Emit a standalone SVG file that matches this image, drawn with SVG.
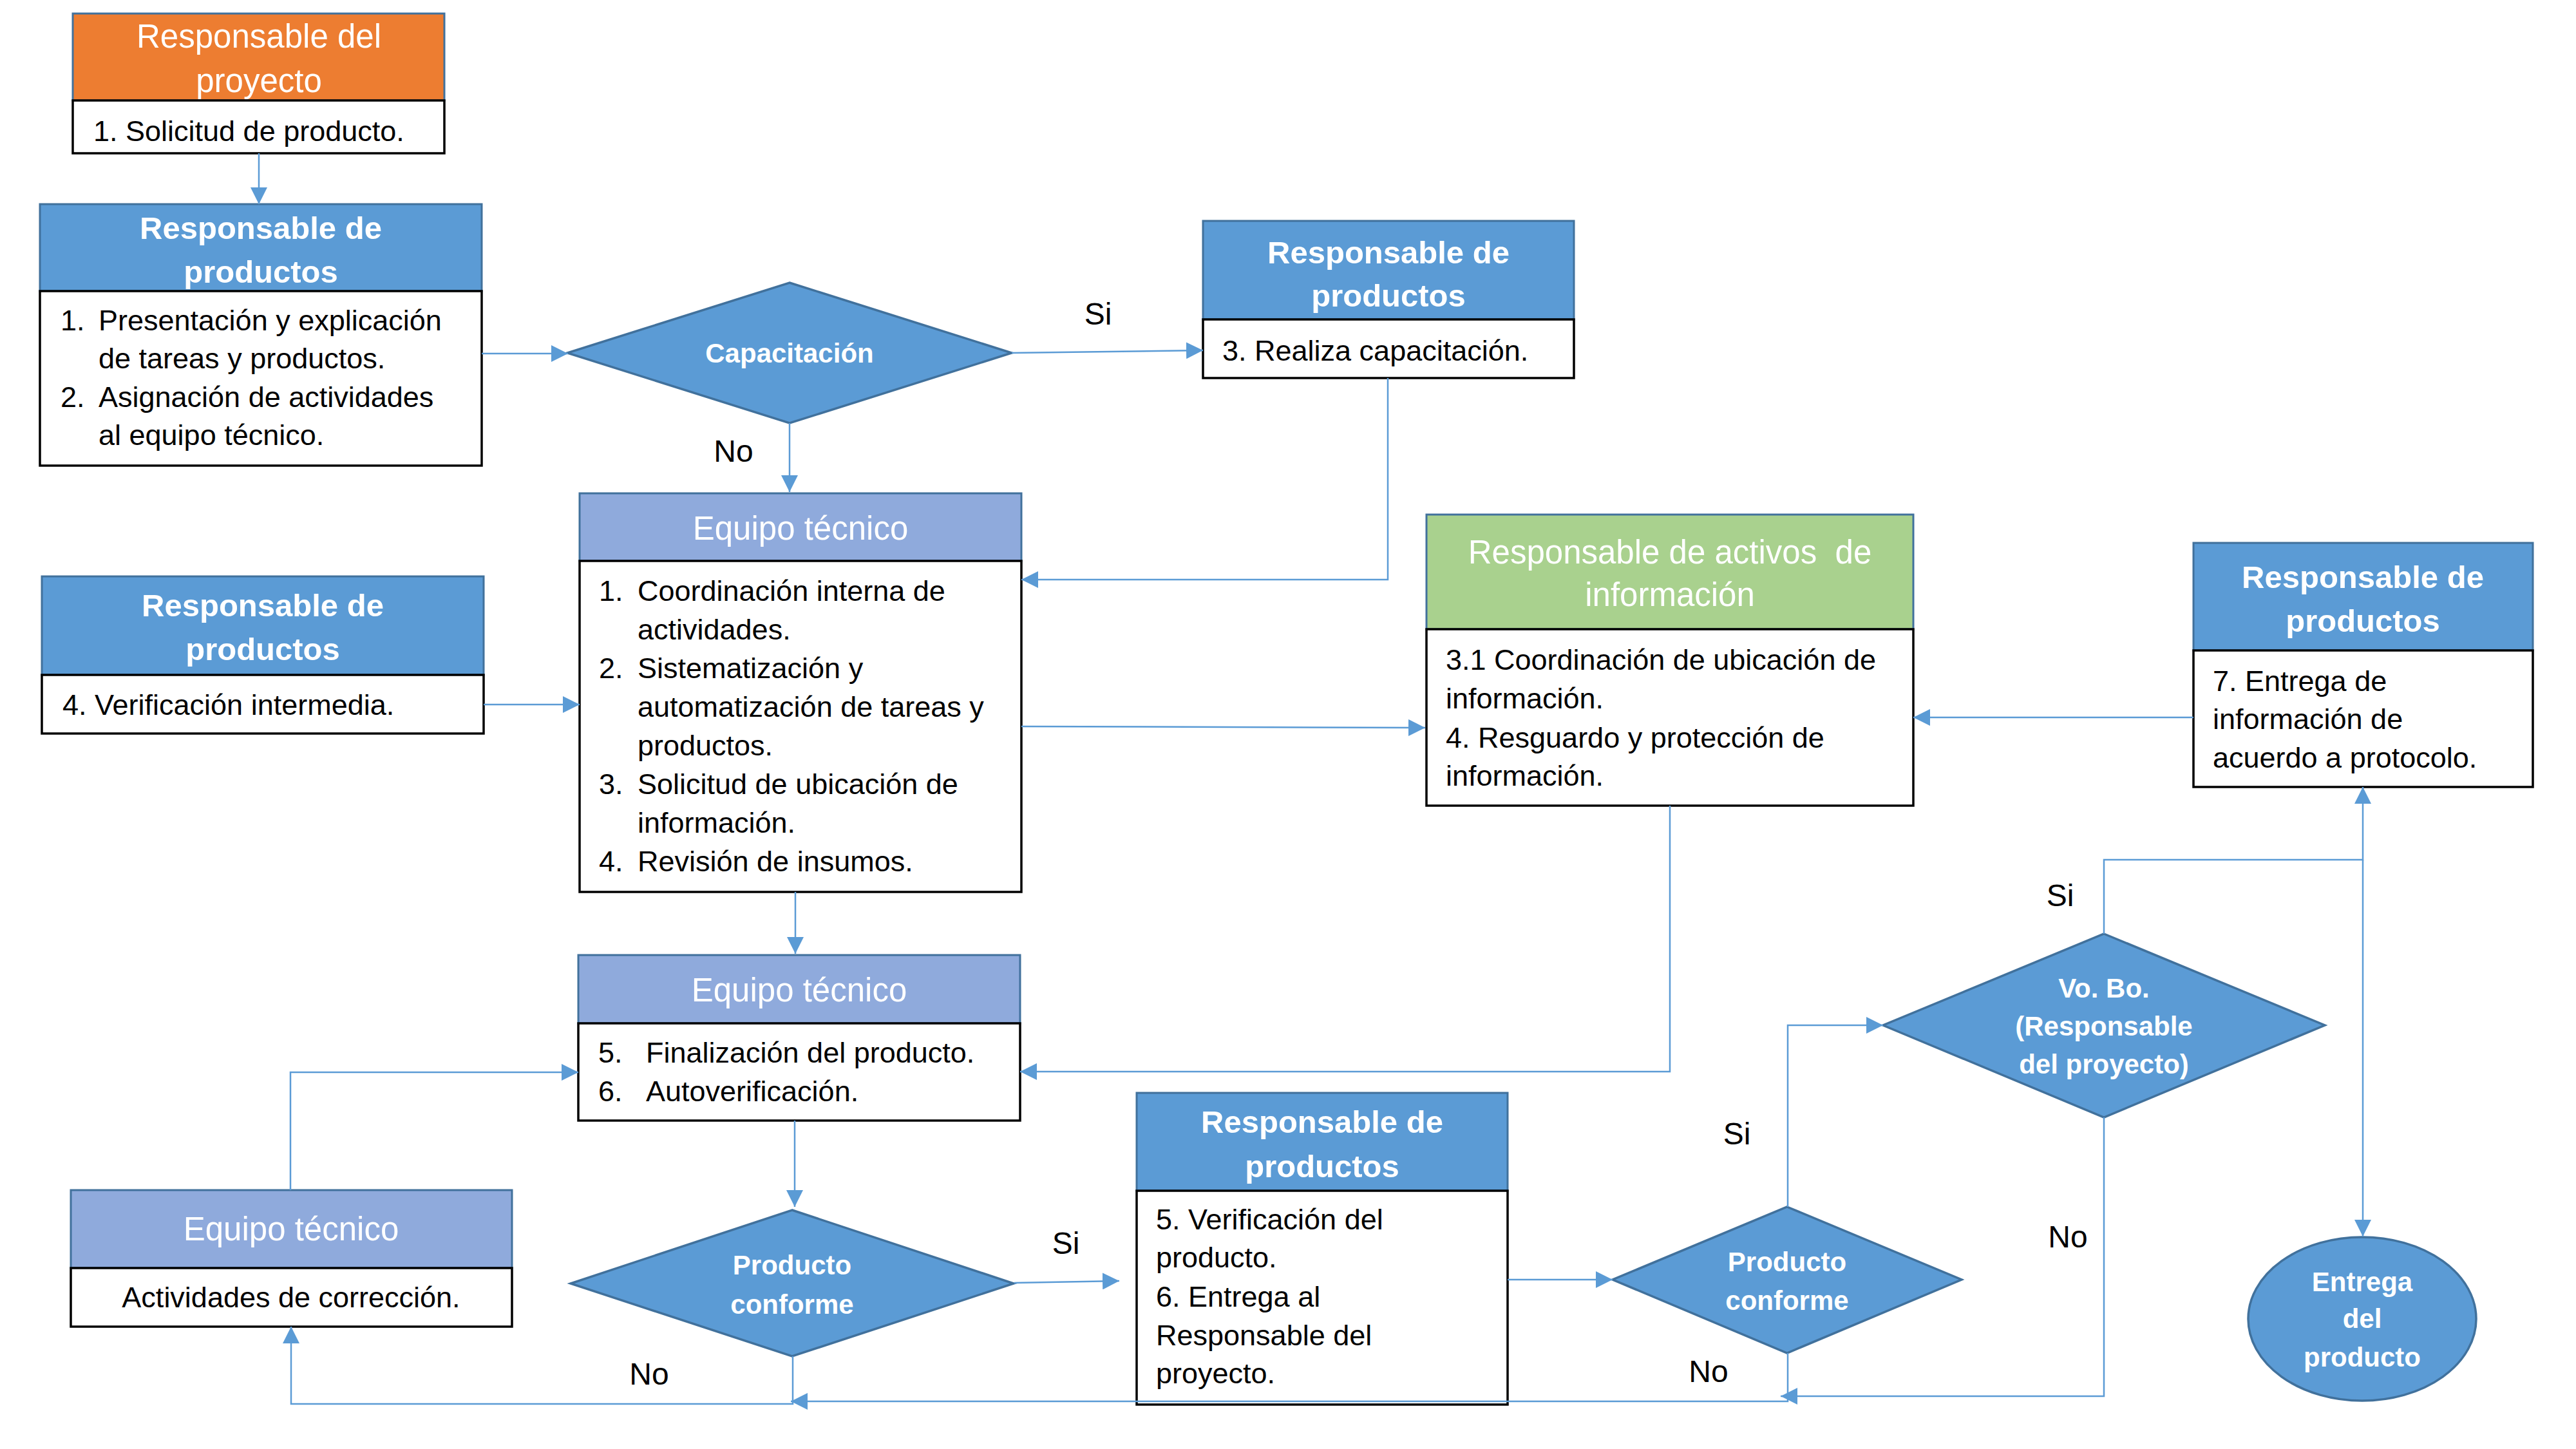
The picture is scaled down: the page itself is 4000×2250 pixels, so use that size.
<svg xmlns="http://www.w3.org/2000/svg" width="4000" height="2250" viewBox="0 0 4000 2250">
<style>
text{font-family:"Liberation Sans",Arial,sans-serif}
.hb{fill:#5B9BD5;stroke:#41719C;stroke-width:3}
.he{fill:#8FAADC;stroke:#41719C;stroke-width:3}
.hg{fill:#A9D18E;stroke:#41719C;stroke-width:3}
.ho{fill:#ED7D31;stroke:#41719C;stroke-width:3}
.bd{fill:#FFFFFF;stroke:#000000;stroke-width:3.5}
.dm{fill:#5B9BD5;stroke:#41719C;stroke-width:3.5}
.th{fill:#FFFFFF;font-size:49px;font-weight:bold;text-anchor:middle}
.tr{fill:#FFFFFF;font-size:51px;text-anchor:middle}
.td{fill:#FFFFFF;font-size:42px;font-weight:bold;text-anchor:middle}
.tb{fill:#000000;font-size:45px}
.lb{fill:#000000;font-size:48px;text-anchor:middle}
.cn{fill:none;stroke:#5B9BD5;stroke-width:2.5}
</style>
<defs>
<marker id="ah" markerUnits="userSpaceOnUse" markerWidth="26" markerHeight="26" viewBox="0 0 24 24" refX="24" refY="12" orient="auto">
<path d="M0,0 L24,12 L0,24 Z" fill="#5B9BD5"/>
</marker>
</defs>

<g id="n1">
<rect class="ho" x="113" y="21" width="577" height="135"/>
<rect class="bd" x="113" y="156" width="577" height="82"/>
<text class="tr" x="402" y="74">Responsable del</text>
<text class="tr" x="402" y="143">proyecto</text>
<text class="tb" x="145" y="219">1. Solicitud de producto.</text>
</g>

<g id="n2">
<rect class="hb" x="62" y="317" width="686" height="135"/>
<rect class="bd" x="62" y="452" width="686" height="271"/>
<text class="th" x="405" y="371">Responsable de</text>
<text class="th" x="405" y="439">productos</text>
<text class="tb" x="94" y="513">1.</text><text class="tb" x="153" y="513">Presentación y explicación</text>
<text class="tb" x="153" y="572">de tareas y productos.</text>
<text class="tb" x="94" y="632">2.</text><text class="tb" x="153" y="632">Asignación de actividades</text>
<text class="tb" x="153" y="691">al equipo técnico.</text>
</g>

<g id="d_capacitacion">
<polygon class="dm" points="1226,439 1571,548 1226,657 881,548"/>
<text class="td" x="1226" y="563">Capacitación</text>
</g>

<g id="n3">
<rect class="hb" x="1868" y="343" width="576" height="153"/>
<rect class="bd" x="1868" y="496" width="576" height="91"/>
<text class="th" x="2156" y="409">Responsable de</text>
<text class="th" x="2156" y="476">productos</text>
<text class="tb" x="1898" y="560">3. Realiza capacitación.</text>
</g>

<g id="n4">
<rect class="he" x="900" y="766" width="686" height="105"/>
<rect class="bd" x="900" y="871" width="686" height="514"/>
<text class="tr" x="1243" y="838">Equipo técnico</text>
<text class="tb" x="930" y="933">1.</text><text class="tb" x="990" y="933">Coordinación interna de</text>
<text class="tb" x="990" y="993">actividades.</text>
<text class="tb" x="930" y="1053">2.</text><text class="tb" x="990" y="1053">Sistematización y</text>
<text class="tb" x="990" y="1113">automatización de tareas y</text>
<text class="tb" x="990" y="1173">productos.</text>
<text class="tb" x="930" y="1233">3.</text><text class="tb" x="990" y="1233">Solicitud de ubicación de</text>
<text class="tb" x="990" y="1293">información.</text>
<text class="tb" x="930" y="1353">4.</text><text class="tb" x="990" y="1353">Revisión de insumos.</text>
</g>

<g id="n5">
<rect class="hb" x="65" y="895" width="686" height="153"/>
<rect class="bd" x="65" y="1048" width="686" height="91"/>
<text class="th" x="408" y="957">Responsable de</text>
<text class="th" x="408" y="1025">productos</text>
<text class="tb" x="97" y="1110">4. Verificación intermedia.</text>
</g>

<g id="n6">
<rect class="hg" x="2215" y="799" width="756" height="178"/>
<rect class="bd" x="2215" y="977" width="756" height="274"/>
<text class="tr" x="2593" y="875" xml:space="preserve">Responsable de activos  de</text>
<text class="tr" x="2593" y="941">información</text>
<text class="tb" x="2245" y="1040">3.1 Coordinación de ubicación de</text>
<text class="tb" x="2245" y="1100">información.</text>
<text class="tb" x="2245" y="1161">4. Resguardo y protección de</text>
<text class="tb" x="2245" y="1220">información.</text>
</g>

<g id="n7">
<rect class="hb" x="3406" y="843" width="527" height="167"/>
<rect class="bd" x="3406" y="1010" width="527" height="212"/>
<text class="th" x="3669" y="913">Responsable de</text>
<text class="th" x="3669" y="981">productos</text>
<text class="tb" x="3436" y="1073">7. Entrega de</text>
<text class="tb" x="3436" y="1132">información de</text>
<text class="tb" x="3436" y="1192">acuerdo a protocolo.</text>
</g>

<g id="n8">
<rect class="he" x="898" y="1483" width="686" height="106"/>
<rect class="bd" x="898" y="1589" width="686" height="151"/>
<text class="tr" x="1241" y="1555">Equipo técnico</text>
<text class="tb" x="929" y="1650">5.</text><text class="tb" x="1003" y="1650">Finalización del producto.</text>
<text class="tb" x="929" y="1710">6.</text><text class="tb" x="1003" y="1710">Autoverificación.</text>
</g>

<g id="n10">
<rect class="he" x="110" y="1848" width="685" height="121"/>
<rect class="bd" x="110" y="1969" width="685" height="91"/>
<text class="tr" x="452" y="1926">Equipo técnico</text>
<text class="tb" x="452" y="2030" text-anchor="middle">Actividades de corrección.</text>
</g>

<g id="d_conforme1">
<polygon class="dm" points="1230,1879 1574,1993 1230,2106 886,1993"/>
<text class="td" x="1230" y="1979">Producto</text>
<text class="td" x="1230" y="2040">conforme</text>
</g>

<g id="n9">
<rect class="hb" x="1765" y="1697" width="576" height="152"/>
<rect class="bd" x="1765" y="1849" width="576" height="332"/>
<text class="th" x="2053" y="1759">Responsable de</text>
<text class="th" x="2053" y="1828">productos</text>
<text class="tb" x="1795" y="1909">5. Verificación del</text>
<text class="tb" x="1795" y="1968">producto.</text>
<text class="tb" x="1795" y="2029">6. Entrega al</text>
<text class="tb" x="1795" y="2089">Responsable del</text>
<text class="tb" x="1795" y="2148">proyecto.</text>
</g>

<g id="d_conforme2">
<polygon class="dm" points="2775,1874 3046,1987 2775,2101 2504,1987"/>
<text class="td" x="2775" y="1974">Producto</text>
<text class="td" x="2775" y="2034">conforme</text>
</g>

<g id="d_vobo">
<polygon class="dm" points="3267,1450 3610,1592 3267,1735 2924,1592"/>
<text class="td" x="3267" y="1549">Vo. Bo.</text>
<text class="td" x="3267" y="1608">(Responsable</text>
<text class="td" x="3267" y="1667">del proyecto)</text>
</g>

<g id="entrega">
<ellipse class="dm" cx="3668" cy="2048" rx="177" ry="127"/>
<text class="td" x="3668" y="2005">Entrega</text>
<text class="td" x="3668" y="2062">del</text>
<text class="td" x="3668" y="2122">producto</text>
</g>

<g id="connectors">
<path class="cn" d="M402,238 V317" marker-end="url(#ah)"/>
<path class="cn" d="M748,549 H882" marker-end="url(#ah)"/>
<path class="cn" d="M1571,548 L1868,544" marker-end="url(#ah)"/>
<path class="cn" d="M1226,657 V764" marker-end="url(#ah)"/>
<path class="cn" d="M2155,587 V900 H1586" marker-end="url(#ah)"/>
<path class="cn" d="M751,1094 H900" marker-end="url(#ah)"/>
<path class="cn" d="M1586,1128 L2213,1130" marker-end="url(#ah)"/>
<path class="cn" d="M1235,1385 V1481" marker-end="url(#ah)"/>
<path class="cn" d="M2593,1251 V1664 H1584" marker-end="url(#ah)"/>
<path class="cn" d="M3406,1114 H2971" marker-end="url(#ah)"/>
<path class="cn" d="M1234,1740 V1874" marker-end="url(#ah)"/>
<path class="cn" d="M451,1848 V1665 H898" marker-end="url(#ah)"/>
<path class="cn" d="M1231,2106 V2180 H452 V2060" marker-end="url(#ah)"/>
<path class="cn" d="M1575,1992 L1738,1989" marker-end="url(#ah)"/>
<path class="cn" d="M2341,1987 H2504" marker-end="url(#ah)"/>
<path class="cn" d="M2776,1874 V1592 H2924" marker-end="url(#ah)"/>
<path class="cn" d="M3267,1450 V1335 H3669 V1222" marker-end="url(#ah)"/>
<path class="cn" d="M3669,1335 V1920" marker-end="url(#ah)"/>
<path class="cn" d="M3267,1735 V2168 H2765" marker-end="url(#ah)"/>
<path class="cn" d="M2776,2101 V2176 H1228" marker-end="url(#ah)"/>
</g>

<g id="labels">
<text class="lb" x="1705" y="504">Si</text>
<text class="lb" x="1139" y="717">No</text>
<text class="lb" x="1655" y="1947">Si</text>
<text class="lb" x="1008" y="2150">No</text>
<text class="lb" x="2697" y="1777">Si</text>
<text class="lb" x="3199" y="1407">Si</text>
<text class="lb" x="3211" y="1937">No</text>
<text class="lb" x="2653" y="2146">No</text>
</g>
</svg>
